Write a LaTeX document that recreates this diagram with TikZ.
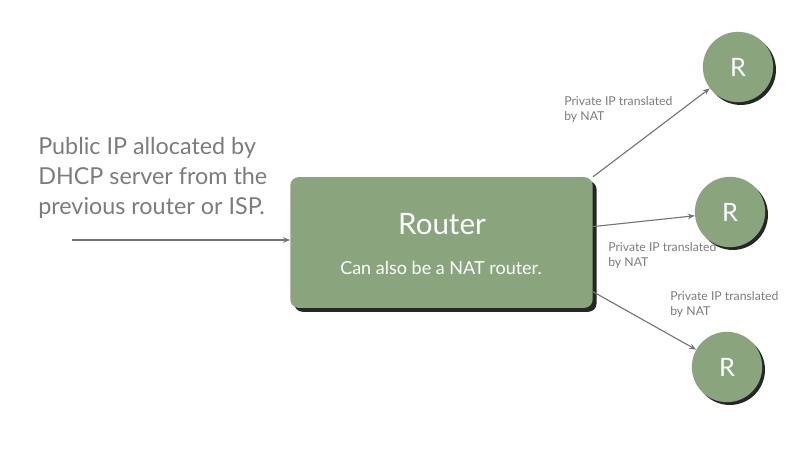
\documentclass[tikz,border=0pt]{standalone}
\usepackage{fontspec}
\usepackage{xcolor}
\setmainfont{Lato}
\usetikzlibrary{arrows.meta,shadows}

\definecolor{boxgreen}{HTML}{8AA57E}
\definecolor{textgray}{HTML}{7C7C7C}
\definecolor{linegray}{HTML}{757575}

\begin{document}
\begin{tikzpicture}[x=0.025cm, y=-0.025cm,
    greenbox/.style={rectangle, rounded corners=6pt, fill=boxgreen, draw=none,
      drop shadow={shadow xshift=2.8pt, shadow yshift=-2.8pt, fill=black, opacity=0.85}},
    peer/.style={circle, fill=boxgreen, minimum size=50pt, inner sep=0pt, text=white,
      font=\fontsize{18}{18}\selectfont,
      drop shadow={shadow xshift=2pt, shadow yshift=-2pt, fill=black, opacity=0.85}},
    natlabel/.style={anchor=north west, align=left, text=textgray, inner sep=0pt,
      font=\fontsize{8.7}{10.7}\selectfont},
    link/.style={draw=linegray, line width=0.8pt, -{Stealth[length=5pt, width=4pt]}}]
  \useasboundingbox (0,0) rectangle (800,458);

  % main router
  \node [greenbox, minimum width=215pt, minimum height=93pt] (router) at (441.5,242.5) {};
  \node [text=white, font=\fontsize{21}{21}\selectfont] (name) at (442,224) {Router};
  \node [text=white, font=\fontsize{12.8}{14}\selectfont] (sub) at (441,268) {Can also be a NAT router.};

  % routers behind NAT
  \node [peer] (r1) at (738,67) {R};
  \node [peer] (r2) at (730,212) {R};
  \node [peer] (r3) at (727,367) {R};

  % uplink
  \node [anchor=north west, align=left, text=textgray, inner sep=0pt,
    font=\fontsize{16.6}{21.3}\selectfont] (pub) at (38,137)
    {Public IP allocated by\\DHCP server from the\\previous router or ISP.};
  \coordinate (isp) at (72,240);
  \draw [link] (isp) -- (router.west |- isp);

  \draw [link] (router.north east) -- (r1);
  \draw [link] (router.6) -- (r2);
  \draw [link] (router.-18) -- (r3);

  \node [natlabel] (lab1) at (564,96) {Private IP translated\\by NAT};
  \node [natlabel] (lab2) at (608,242) {Private IP translated\\by NAT};
  \node [natlabel] (lab3) at (670,291) {Private IP translated\\by NAT};
\end{tikzpicture}
\end{document}
